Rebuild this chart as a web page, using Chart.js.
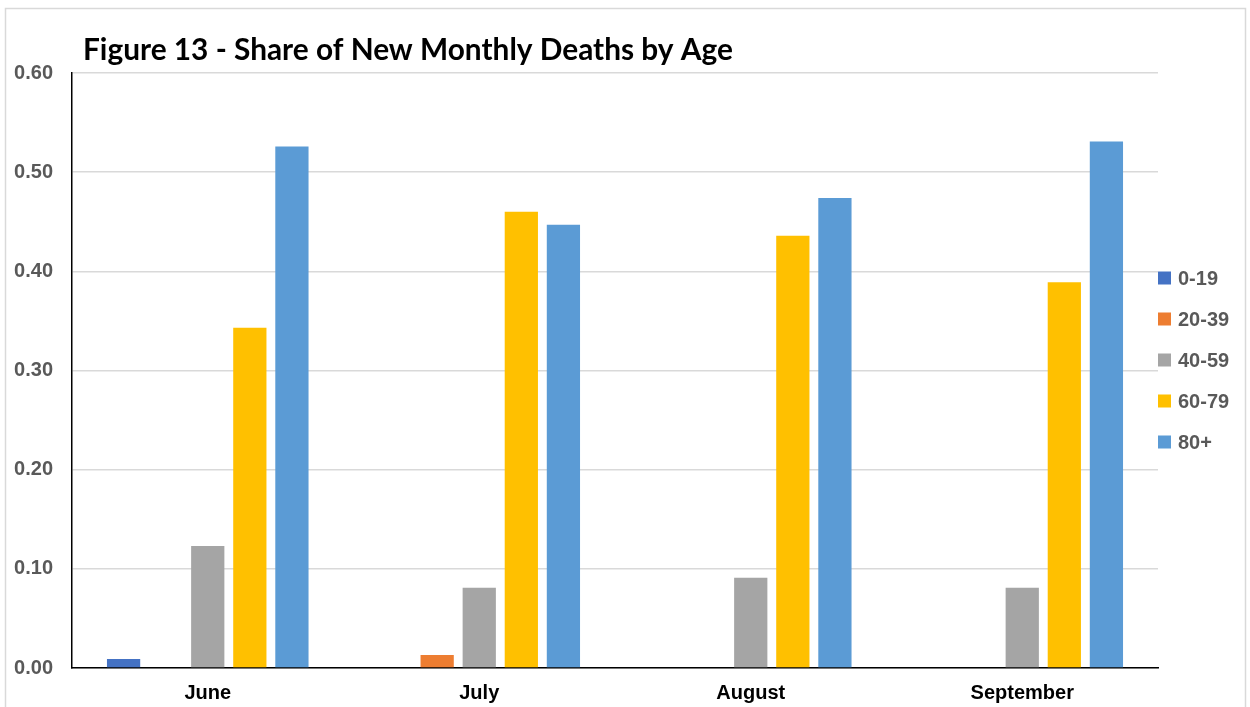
<!DOCTYPE html>
<html>
<head>
<meta charset="utf-8">
<script src="https://cdn.jsdelivr.net/npm/chart.js@4.4.1/dist/chart.umd.min.js"></script>
<style>
  html, body { margin: 0; padding: 0; background: #ffffff; }
  #wrap { position: relative; width: 1250px; height: 707px; }
</style>
</head>
<body>
<div id="wrap"><canvas id="c" width="1250" height="707"></canvas></div>
<script>
const titleText = "Figure 13 - Share of New Monthly Deaths by Age";
const months = ["June", "July", "August", "September"];
const ageGroups = ["0-19", "20-39", "40-59", "60-79", "80+"];
const colors = ["#4472C4", "#ED7D31", "#A5A5A5", "#FFC000", "#5B9BD5"];
const age0_19  = [0.009, 0.000, 0.000, 0.000];
const age20_39 = [0.000, 0.013, 0.000, 0.000];
const age40_59 = [0.123, 0.081, 0.091, 0.081];
const age60_79 = [0.343, 0.460, 0.436, 0.389];
const age80p   = [0.526, 0.447, 0.474, 0.531];
const yTicks = [0.00, 0.10, 0.20, 0.30, 0.40, 0.50, 0.60];

const seriesValues = [age0_19, age20_39, age40_59, age60_79, age80p];
const labelFont = '"Liberation Sans", Arial, sans-serif';

const decorPlugin = {
  id: 'decor',
  beforeDraw(chart) {
    const ctx = chart.ctx;
    ctx.save();
    ctx.fillStyle = '#ffffff';
    ctx.fillRect(0, 0, chart.width, chart.height);
    ctx.strokeStyle = '#d9d9d9';
    ctx.lineWidth = 1.5;
    ctx.strokeRect(5.5, 8.5, 1240, 720);
    ctx.restore();
  },
  afterDraw(chart) {
    const ctx = chart.ctx;
    const area = chart.chartArea;
    ctx.save();
    // title
    let size = 29;
    ctx.font = 'bold ' + size + 'px Lato, "Open Sans", sans-serif';
    const w = ctx.measureText(titleText).width;
    size = size * 650 / w;
    ctx.font = 'bold ' + size.toFixed(2) + 'px Lato, "Open Sans", sans-serif';
    ctx.fillStyle = '#000000';
    ctx.textBaseline = 'middle';
    ctx.textAlign = 'left';
    ctx.fillText(titleText, 83, 50);
    // legend
    ctx.font = 'bold 20px ' + labelFont;
    ctx.textBaseline = 'middle';
    chart.data.datasets.forEach((ds, i) => {
      const cy = 278 + i * 41;
      ctx.fillStyle = ds.backgroundColor;
      ctx.fillRect(area.right, cy - 6.5, 13, 13);
      ctx.fillStyle = '#595959';
      ctx.fillText(ds.label, area.right + 20, cy + 1);
    });
    ctx.restore();
  }
};

new Chart(document.getElementById('c'), {
  type: 'bar',
  data: {
    labels: months,
    datasets: ageGroups.map((g, i) => ({
      label: g,
      data: seriesValues[i],
      backgroundColor: colors[i],
      borderWidth: 0,
      categoryPercentage: 0.775,
      barPercentage: 0.79
    }))
  },
  options: {
    responsive: false,
    animation: false,
    layout: { padding: { left: 5, right: 92, top: 73, bottom: 0 } },
    plugins: {
      legend: { display: false },
      title: { display: false },
      tooltip: { enabled: false }
    },
    scales: {
      x: {
        grid: { display: false, drawTicks: false },
        border: { display: true, color: '#000000', width: 1.5 },
        ticks: {
          color: '#000000',
          padding: 13,
          font: { family: labelFont, size: 20, weight: 'bold' }
        },
        afterFit(s) { s.height = 39; }
      },
      y: {
        min: 0,
        max: 0.6,
        afterBuildTicks(s) { s.ticks = yTicks.map(v => ({ value: v })); },
        grid: { color: '#d9d9d9', lineWidth: 1.5, drawTicks: false },
        border: { display: true, color: '#000000', width: 1.5 },
        ticks: {
          color: '#595959',
          padding: 19,
          font: { family: labelFont, size: 20, weight: 'bold' },
          callback: v => Number(v).toFixed(2)
        },
        afterFit(s) { s.width = 67; }
      }
    }
  },
  plugins: [decorPlugin]
});
</script>
</body>
</html>
